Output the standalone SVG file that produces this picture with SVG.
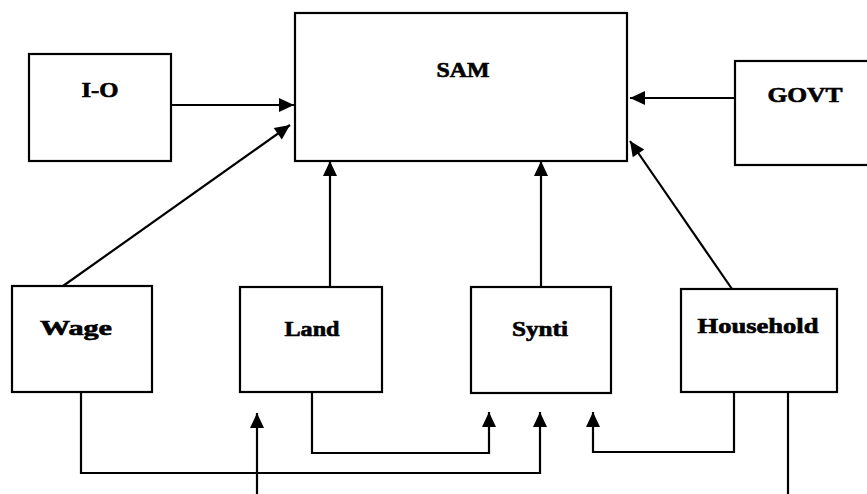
<svg xmlns="http://www.w3.org/2000/svg" width="867" height="494" viewBox="0 0 867 494">
<style>
.box{fill:#fff;stroke:#000;stroke-width:2.2}
.lbl{font-family:"Liberation Serif","Times New Roman",serif;font-weight:bold;font-size:20px;fill:#000;stroke:#000;stroke-width:0.6;text-anchor:middle}
.c{fill:none;stroke:#000;stroke-width:2.2}
</style>
<defs>
<marker id="ah" markerUnits="userSpaceOnUse" markerWidth="17" markerHeight="15" refX="15" refY="7" orient="auto" overflow="visible">
<path d="M0,0 L15,7 L0,14 Z" fill="#000"/>
</marker>
</defs>
<rect width="867" height="494" fill="#fff"/>
<g id="connectors">
<line class="c" x1="171" y1="105" x2="294" y2="105" marker-end="url(#ah)"/>
<line class="c" x1="63" y1="286" x2="290" y2="125" marker-end="url(#ah)"/>
<line class="c" x1="735" y1="98" x2="630" y2="98" marker-end="url(#ah)"/>
<line class="c" x1="732" y1="289" x2="630" y2="141" marker-end="url(#ah)"/>
<line class="c" x1="330" y1="287" x2="330" y2="161" marker-end="url(#ah)"/>
<line class="c" x1="541" y1="287" x2="541" y2="161" marker-end="url(#ah)"/>
<polyline class="c" points="81,392 81,473 540,473 540,412" marker-end="url(#ah)"/>
<polyline class="c" points="312,392 312,453 489,453 489,412" marker-end="url(#ah)"/>
<polyline class="c" points="734,392 734,452 593,452 593,412" marker-end="url(#ah)"/>
<line class="c" x1="257" y1="494" x2="257" y2="413" marker-end="url(#ah)"/>
<line class="c" x1="788" y1="392" x2="788" y2="494"/>
</g>
<g id="SAM"><rect class="box" x="295" y="13" width="332" height="148"/><text class="lbl" x="463" y="77" textLength="53" lengthAdjust="spacingAndGlyphs">SAM</text></g>
<g id="IO"><rect class="box" x="29" y="54" width="142" height="107"/><text class="lbl" x="100" y="97" textLength="37" lengthAdjust="spacingAndGlyphs">I-O</text></g>
<g id="GOVT"><rect class="box" x="735" y="61" width="140" height="104"/><text class="lbl" x="805" y="102" textLength="75" lengthAdjust="spacingAndGlyphs">GOVT</text></g>
<g id="Wage"><rect class="box" x="12" y="286" width="140" height="106"/><text class="lbl" x="76" y="335" textLength="72" lengthAdjust="spacingAndGlyphs">Wage</text></g>
<g id="Land"><rect class="box" x="240" y="287" width="142" height="105"/><text class="lbl" x="312" y="336" textLength="55" lengthAdjust="spacingAndGlyphs">Land</text></g>
<g id="Synti"><rect class="box" x="471" y="287" width="140" height="106"/><text class="lbl" x="540" y="336" textLength="56" lengthAdjust="spacingAndGlyphs">Synti</text></g>
<g id="Household"><rect class="box" x="681" y="289" width="156" height="103"/><text class="lbl" x="758" y="333" textLength="121" lengthAdjust="spacingAndGlyphs">Household</text></g>
</svg>
